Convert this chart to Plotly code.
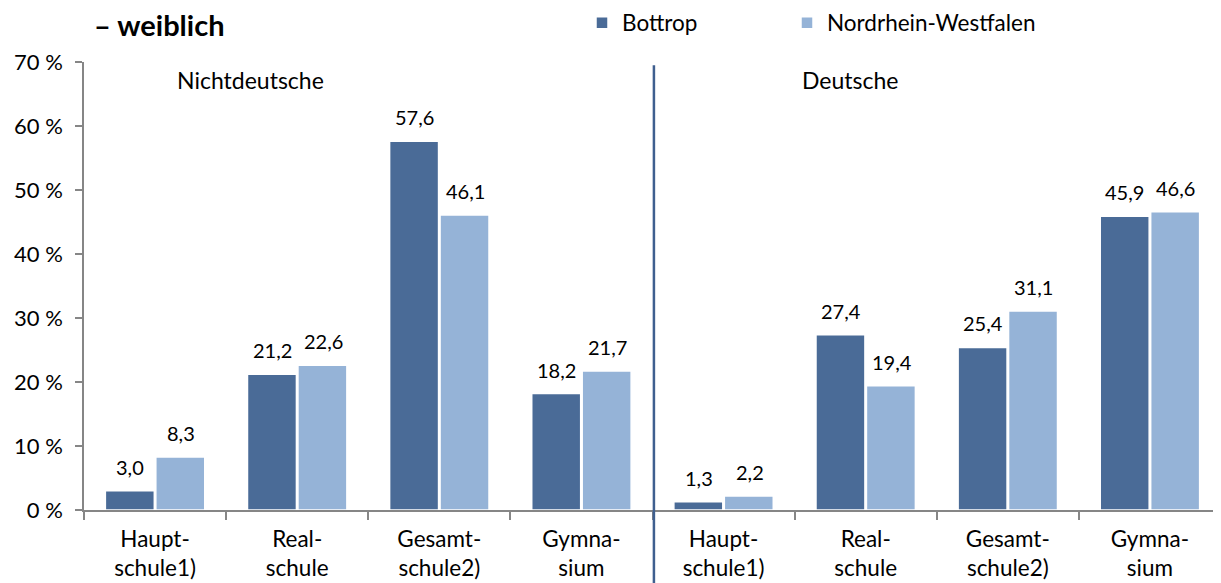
import plotly.graph_objects as go

categories = ["Haupt-<br>schule1)", "Real-<br>schule", "Gesamt-<br>schule2)", "Gymna-<br>sium",
              "Haupt-<br>schule1)", "Real-<br>schule", "Gesamt-<br>schule2)", "Gymna-<br>sium"]
bottrop = [3.0, 21.2, 57.6, 18.2, 1.3, 27.4, 25.4, 45.9]
nrw = [8.3, 22.6, 46.1, 21.7, 2.2, 19.4, 31.1, 46.6]
groups = ["Nichtdeutsche", "Deutsche"]
yticks = [0, 10, 20, 30, 40, 50, 60, 70]
ytick_labels = [f"{v} %" for v in yticks]

DARK = "#4a6b97"
LIGHT = "#95b3d7"
FONT = "Lato, 'Open Sans', sans-serif"

# the page body adds an 8px margin; figure is sized/offset to compensate
W, H = 1213, 575

x = list(range(len(categories)))

def fmt(v):
    return f"{v:.1f}".replace(".", ",")

fig = go.Figure()
fig.add_trace(go.Bar(x=x, y=bottrop, name="Bottrop", legend="legend", showlegend=True,
                     marker=dict(color=DARK, line=dict(color="white", width=1.5))))
fig.add_trace(go.Bar(x=x, y=nrw, name="Nordrhein-Westfalen", legend="legend2", showlegend=True,
                     marker=dict(color=LIGHT, line=dict(color="white", width=1.5))))

annotations = []
for xi, v in zip(x, bottrop):
    annotations.append(dict(x=xi, y=v, text=fmt(v), showarrow=False, xshift=-25, yshift=10,
                            yanchor="bottom", font=dict(size=20, color="black", family=FONT)))
for xi, v in zip(x, nrw):
    annotations.append(dict(x=xi, y=v, text=fmt(v), showarrow=False, xshift=26, yshift=10,
                            yanchor="bottom", font=dict(size=20, color="black", family=FONT)))
annotations.append(dict(x=0.67, y=67.2, text=groups[0], showarrow=False, font=dict(size=23, color="black", family=FONT)))
annotations.append(dict(x=4.89, y=67.2, text=groups[1], showarrow=False, font=dict(size=23, color="black", family=FONT)))

legend_common = dict(orientation="h", xref="container", yref="container", xanchor="left",
                     y=1 - 15 / H, yanchor="middle", font=dict(size=22.5, family=FONT),
                     itemwidth=30, bgcolor="rgba(0,0,0,0)", visible=True)

fig.update_layout(
    width=W, height=H,
    showlegend=True,
    margin=dict(l=76, r=0, t=54, b=73, autoexpand=False),
    plot_bgcolor="white", paper_bgcolor="white",
    barmode="group", bargap=0.29, bargroupgap=0.03,
    font=dict(family=FONT, size=21, color="black"),
    title=dict(text="<b>– weiblich</b>", x=86 / W, xanchor="left", xref="container",
               y=1 - 18 / H, yanchor="middle", yref="container",
               font=dict(size=29, color="black", family=FONT)),
    legend=dict(x=574 / W, **legend_common),
    legend2=dict(x=779 / W, **legend_common),
    annotations=annotations,
    shapes=[dict(type="line", xref="x", yref="paper", x0=3.51, x1=3.51, y0=-0.2, y1=0.993,
                 line=dict(color="#3f5f8f", width=2.5))],
)
fig.update_xaxes(
    range=[-0.5, 7.5], tickvals=x, ticktext=categories, ticks="", showline=True,
    linecolor="#868686", linewidth=1.5, showgrid=False, zeroline=False, automargin=False,
    tickfont=dict(size=22.5, family=FONT), ticklabelstandoff=8,
    minor=dict(tickvals=[i - 0.5 for i in range(9)], ticks="outside", ticklen=8, tickcolor="#868686", tickwidth=1.5),
)
fig.update_yaxes(
    range=[0, 70], tickvals=yticks, ticktext=ytick_labels, ticks="outside", ticklen=7,
    tickcolor="#868686", tickwidth=1.5, showline=True, linecolor="#868686", linewidth=1.5,
    showgrid=False, zeroline=False, automargin=False, tickfont=dict(size=22, family=FONT),
    ticklabelstandoff=8,
)
fig.write_html("out.html")
